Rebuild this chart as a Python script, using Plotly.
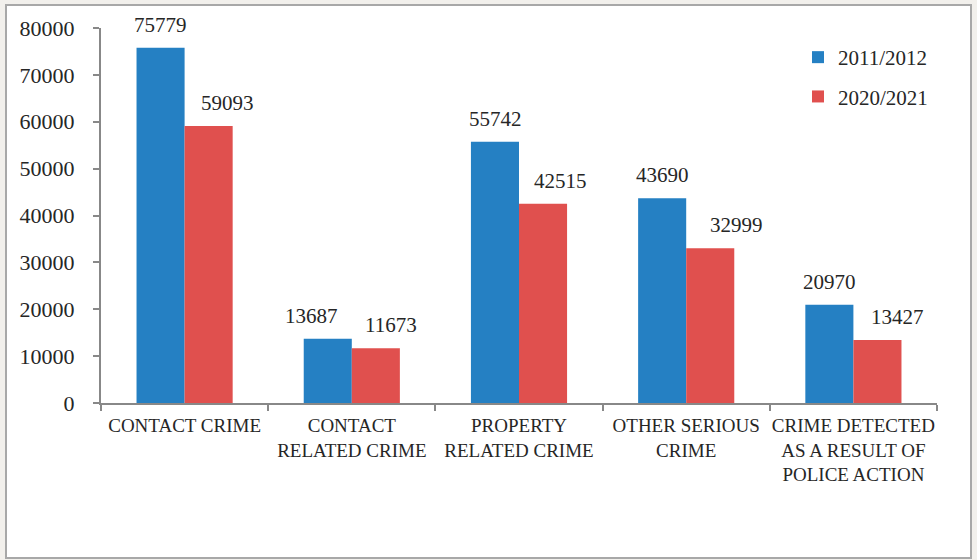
import plotly.graph_objects as go

categories = ["CONTACT CRIME", "CONTACT<br>RELATED CRIME", "PROPERTY<br>RELATED CRIME",
              "OTHER SERIOUS<br>CRIME", "CRIME DETECTED<br>AS A RESULT OF<br>POLICE ACTION"]
series_names = ["2011/2012", "2020/2021"]
values_2011 = [75779, 13687, 55742, 43690, 20970]
values_2020 = [59093, 11673, 42515, 32999, 13427]
colors = ["#2580c3", "#e0504e"]

# horizontal nudges of the value labels (pixels, relative to bar centre)
label_nudge_2011 = [0, -16, 0, 0, 0]
label_nudge_2020 = [19, 15, 17, 26, 20]

FONT = "Liberation Serif"
TXT = "#262626"

fig = go.Figure()
for name, vals, col, grp in zip(series_names, [values_2011, values_2020], colors, ["a", "b"]):
    fig.add_trace(go.Bar(
        x=categories, y=vals, name=name, marker=dict(color=col, line=dict(width=0)),
        legendgroup=grp, cliponaxis=False,
    ))

# value labels above bars
for vals, shift, nudges in zip([values_2011, values_2020], [-24, 24],
                               [label_nudge_2011, label_nudge_2020]):
    for c, v, n in zip(categories, vals, nudges):
        fig.add_annotation(x=c, y=v, text=str(v), showarrow=False, xshift=shift + n,
                           yanchor="bottom", yshift=9,
                           font=dict(family=FONT, size=21, color=TXT))

L, R, T, B = 101, 40, 28, 157
W, H = 977, 560
pw, ph = W - L - R, H - T - B

def px(x):
    return (x - L) / pw

def py(y):
    return (H - B - y) / ph

fig.add_shape(type="rect", xref="paper", yref="paper", layer="below",
              x0=px(6), x1=px(971), y0=py(558), y1=py(5),
              fillcolor="white", line=dict(color="#a8a8a8", width=2))

fig.update_layout(
    width=W, height=H,
    margin=dict(l=L, r=R, t=T, b=B, autoexpand=False),
    paper_bgcolor="#f2f0ec", plot_bgcolor="white",
    barmode="group", bargap=0.425, bargroupgap=0,
    font=dict(family=FONT, size=19, color=TXT),
    showlegend=True,
    legend=dict(x=px(798), y=py(37), xanchor="left", yanchor="top",
                bgcolor="rgba(0,0,0,0)", font=dict(family=FONT, size=21, color=TXT),
                traceorder="grouped", tracegroupgap=9, itemwidth=30),
    xaxis=dict(showline=True, linecolor="#888", linewidth=2, ticks="outside",
               tickson="boundaries", ticklen=6, tickcolor="#888", tickwidth=2,
               showgrid=False, tickangle=0, automargin=False, ticklabelstandoff=4,
               tickfont=dict(family=FONT, size=19, color=TXT)),
    yaxis=dict(range=[0, 80000], dtick=10000, tickformat="d", showline=True,
               linecolor="#888", linewidth=2, ticks="outside", ticklen=6,
               tickcolor="#888", tickwidth=2, showgrid=False, zeroline=False,
               automargin=False, ticklabelstandoff=14,
               tickfont=dict(family=FONT, size=22, color=TXT)),
)

fig.write_html("out.html", config={"displayModeBar": False},
               post_script="document.body.style.margin='0px';")
